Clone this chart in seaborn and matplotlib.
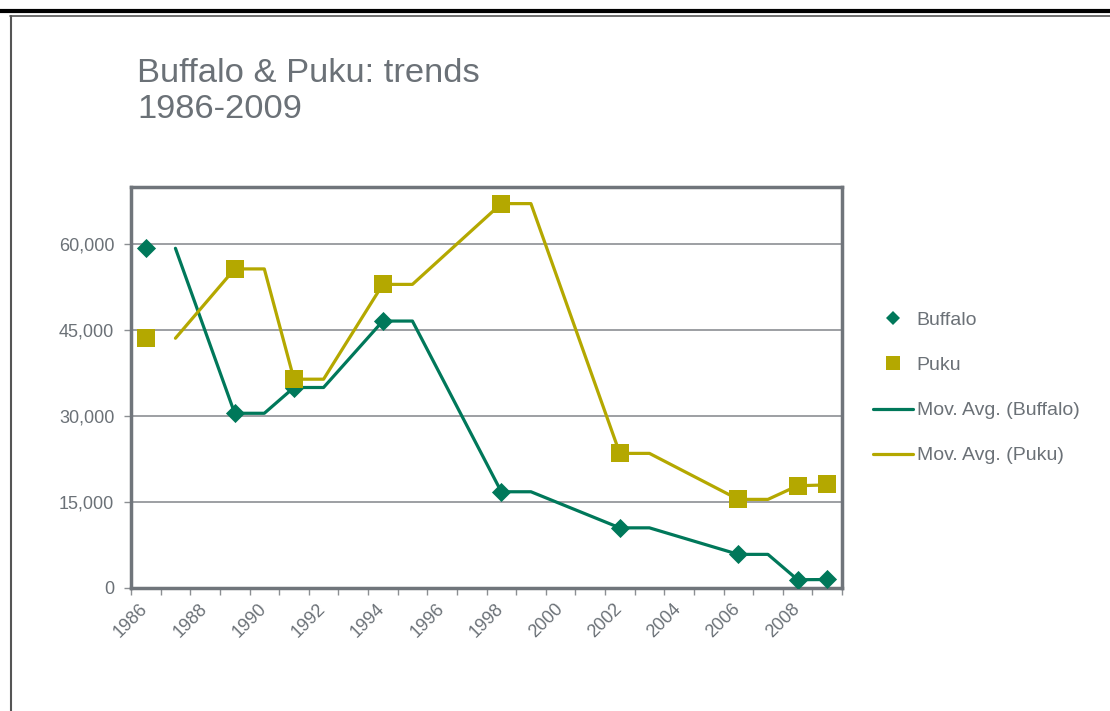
import numpy as np
import pandas as pd
import matplotlib
matplotlib.use("Agg")
import matplotlib.pyplot as plt
from matplotlib.lines import Line2D
import seaborn as sns

# ---- data ----
years = [1986, 1989, 1991, 1994, 1998, 2002, 2006, 2008, 2009]
buffalo = [59300, 30500, 35000, 46600, 16800, 10500, 5870, 1450, 1500]
puku = [43600, 55700, 36450, 53000, 67100, 23500, 15470, 17850, 18140]
x_ticks = list(range(1986, 2011))
x_labels = [str(y) if y % 2 == 0 and y < 2010 else "" for y in x_ticks]
y_ticks = [0, 15000, 30000, 45000, 60000]
title_lines = ["Buffalo & Puku: trends", "1986-2009"]

GREEN = "#00785A"
OLIVE = "#B4A800"
TXT = "#6B7177"
GRID = "#8C8F93"
SPINE = "#70757B"

sns.set_theme(style="white")
plt.rcParams["font.family"] = ["Liberation Sans", "DejaVu Sans"]

df = pd.DataFrame({"year": years, "Buffalo": buffalo, "Puku": puku})
df["x"] = df["year"] + 0.5

# Excel-style 2-period moving average over yearly categories (blanks skipped)
full = df.set_index("year")[["Buffalo", "Puku"]].reindex(range(1986, 2010))
ma = full.rolling(2, min_periods=1).mean().loc[1987:]

fig = plt.figure(figsize=(11.1, 7.11), dpi=100)
ax = fig.add_axes([131 / 1110, 1 - 588 / 711, (842 - 131) / 1110, (588 - 187) / 711])

for col, color in [("Buffalo", GREEN), ("Puku", OLIVE)]:
    m = ma[col].dropna().reset_index()
    m["x"] = m["year"] + 0.5
    sns.lineplot(data=m, x="x", y=col, ax=ax, color=color, lw=2.3, zorder=3,
                 estimator=None, sort=True, legend=False)

sns.scatterplot(data=df, x="x", y="Buffalo", ax=ax, marker="D", s=95, color=GREEN,
                edgecolor=GREEN, linewidth=0, zorder=4, legend=False)
sns.scatterplot(data=df, x="x", y="Puku", ax=ax, marker="s", s=150, color=OLIVE,
                edgecolor=OLIVE, linewidth=0, zorder=4, legend=False)

ax.set_xlim(1986, 2010)
ax.set_ylim(0, 70000)
ax.set_xticks(x_ticks)
ax.set_xticklabels(x_labels, rotation=45, ha="center", color=TXT, fontsize=13)
ax.set_yticks(y_ticks)
ax.set_yticklabels([f"{v:,}" for v in y_ticks], color=TXT, fontsize=13)
ax.tick_params(axis="both", which="both", length=5, width=1, color=GRID,
               direction="out", bottom=True, left=True)
ax.tick_params(axis="x", pad=4)
ax.tick_params(axis="y", pad=7)
ax.set_xlabel("")
ax.set_ylabel("")
for v in y_ticks[1:]:
    ax.axhline(v, color=GRID, lw=1.2, zorder=1)
for s in ax.spines.values():
    s.set_color(SPINE)
    s.set_linewidth(2.5)

for line, base in zip(title_lines, [82, 118]):
    fig.text(137 / 1110, 1 - base / 711, line, fontsize=24.8, color=TXT,
             va="baseline", ha="left")

handles = [
    Line2D([], [], marker="D", ls="none", color=GREEN, ms=7.5, mew=0),
    Line2D([], [], marker="s", ls="none", color=OLIVE, ms=9.5, mew=0),
    Line2D([], [], color=GREEN, lw=2.3),
    Line2D([], [], color=OLIVE, lw=2.3),
]
labels = ["Buffalo", "Puku", "Mov. Avg. (Buffalo)", "Mov. Avg. (Puku)"]
leg = fig.legend(handles, labels, loc="center left",
                 bbox_to_anchor=(865 / 1110, 1 - 388 / 711), frameon=False,
                 fontsize=14, handlelength=2.05, handletextpad=0.2,
                 labelspacing=1.41, borderaxespad=0)
for t in leg.get_texts():
    t.set_color(TXT)

# page frame lines
fig.add_artist(Line2D([0, 1], [1 - 10.5 / 711] * 2, color="black", lw=3,
                      transform=fig.transFigure))
fig.add_artist(Line2D([10 / 1110, 1], [1 - 16 / 711] * 2, color="#555555", lw=1.2,
                      transform=fig.transFigure))
fig.add_artist(Line2D([11 / 1110, 11 / 1110], [0, 1 - 16 / 711], color="#555555",
                      lw=1.5, transform=fig.transFigure))

fig.savefig("out.png", dpi=100, facecolor="white")
